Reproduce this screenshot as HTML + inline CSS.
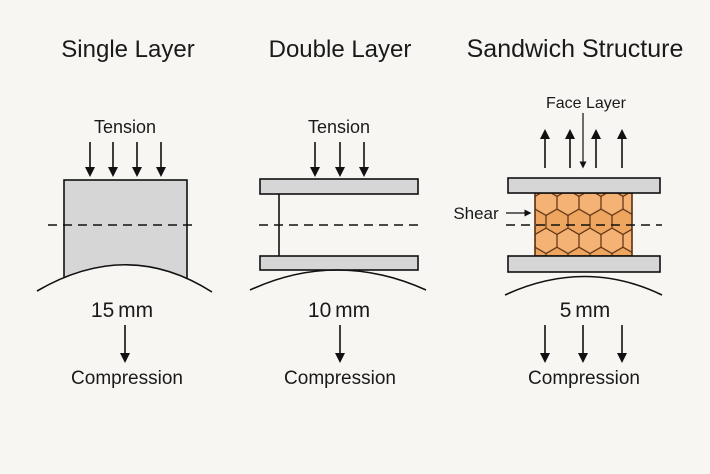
<!DOCTYPE html>
<html><head><meta charset="utf-8"><style>
html,body{margin:0;padding:0;background:#f7f6f3;}
svg{display:block;}
text{font-family:"Liberation Sans",sans-serif;fill:#1a1a1a;}
</style></head><body>
<svg width="710" height="474" viewBox="0 0 710 474" xmlns="http://www.w3.org/2000/svg">
<defs>
<marker id="ah" markerWidth="10" markerHeight="10" refX="5" refY="5" orient="auto" markerUnits="userSpaceOnUse"><path d="M0,0 L10,5 L0,10 z" fill="#111"/></marker>
<marker id="as" markerWidth="7" markerHeight="7" refX="3.5" refY="3.5" orient="auto" markerUnits="userSpaceOnUse"><path d="M0,0 L7,3.5 L0,7 z" fill="#111"/></marker>
<pattern id="hex" width="22" height="38.1" patternUnits="userSpaceOnUse" x="535" y="190">
<rect width="22" height="38.1" fill="#eea560"/>
<path d="M11,0 L22,6.35 L22,19.05 L11,25.4 L0,19.05 L0,6.35 Z" fill="#f4b274" stroke="#5a3010" stroke-width="1.2"/>
<path d="M11,25.4 L11,38.1" fill="none" stroke="#5a3010" stroke-width="1.2"/>
</pattern>
<clipPath id="c1"><path d="M0,0 L710,0 L710,290 L212,292 Q128,238 37,291 L0,291 Z"/></clipPath>
</defs>
<rect width="710" height="474" fill="#f7f6f3"/>
<text x="128" y="57" font-size="24" text-anchor="middle">Single Layer</text>
<text x="340" y="57" font-size="24" text-anchor="middle">Double Layer</text>
<text x="575" y="57" font-size="25" text-anchor="middle">Sandwich Structure</text>

<g stroke="#111" stroke-width="1.6" fill="none">
<line x1="90" y1="142" x2="90" y2="172" marker-end="url(#ah)"/>
<line x1="113" y1="142" x2="113" y2="172" marker-end="url(#ah)"/>
<line x1="137" y1="142" x2="137" y2="172" marker-end="url(#ah)"/>
<line x1="161" y1="142" x2="161" y2="172" marker-end="url(#ah)"/>
<rect x="64" y="180" width="123" height="110" fill="#d6d6d6" clip-path="url(#c1)"/>
<line x1="48" y1="225" x2="195" y2="225" stroke-dasharray="9,6" stroke-width="1.4"/>
<path d="M37,291 Q128,238 212,292"/>
<line x1="125" y1="325" x2="125" y2="358" marker-end="url(#ah)"/>

<line x1="315" y1="142" x2="315" y2="172" marker-end="url(#ah)"/>
<line x1="340" y1="142" x2="340" y2="172" marker-end="url(#ah)"/>
<line x1="364" y1="142" x2="364" y2="172" marker-end="url(#ah)"/>
<rect x="260" y="179" width="158" height="15" fill="#d6d6d6"/>
<rect x="260" y="256" width="158" height="14" fill="#d6d6d6"/>
<line x1="279" y1="194" x2="279" y2="256"/>
<line x1="259" y1="225" x2="420" y2="225" stroke-dasharray="9,6" stroke-width="1.4"/>
<path d="M250,290 Q337,250 426,290"/>
<line x1="340" y1="325" x2="340" y2="358" marker-end="url(#ah)"/>

<line x1="545" y1="168" x2="545" y2="134" marker-end="url(#ah)"/>
<line x1="570" y1="168" x2="570" y2="134" marker-end="url(#ah)"/>
<line x1="596" y1="168" x2="596" y2="134" marker-end="url(#ah)"/>
<line x1="622" y1="168" x2="622" y2="134" marker-end="url(#ah)"/>
<line x1="583" y1="113" x2="583" y2="165" stroke-width="1.2" marker-end="url(#as)"/>
<rect x="535" y="193" width="97" height="63" fill="url(#hex)" stroke="#5a3010"/>
<rect x="508" y="178" width="152" height="15" fill="#d6d6d6"/>
<rect x="508" y="256" width="152" height="16" fill="#d6d6d6"/>
<line x1="506" y1="225" x2="662" y2="225" stroke-dasharray="9,6" stroke-width="1.4"/>
<line x1="506" y1="213" x2="528" y2="213" stroke-width="1.2" marker-end="url(#as)"/>
<path d="M505,295 Q585,258 662,295"/>
<line x1="545" y1="325" x2="545" y2="358" marker-end="url(#ah)"/>
<line x1="583" y1="325" x2="583" y2="358" marker-end="url(#ah)"/>
<line x1="622" y1="325" x2="622" y2="358" marker-end="url(#ah)"/>
</g>

<text x="125" y="133" font-size="18" text-anchor="middle">Tension</text>
<text x="339" y="133" font-size="18" text-anchor="middle">Tension</text>
<text x="586" y="108" font-size="16" text-anchor="middle">Face Layer</text>
<text x="476" y="219" font-size="17" text-anchor="middle">Shear</text>
<text x="122" y="317" font-size="21" text-anchor="middle" word-spacing="-2">15 mm</text>
<text x="339" y="317" font-size="21" text-anchor="middle" word-spacing="-2">10 mm</text>
<text x="585" y="317" font-size="21" text-anchor="middle" word-spacing="-2">5 mm</text>
<text x="127" y="384" font-size="19" text-anchor="middle">Compression</text>
<text x="340" y="384" font-size="19" text-anchor="middle">Compression</text>
<text x="584" y="384" font-size="19" text-anchor="middle">Compression</text>
</svg>
</body></html>
